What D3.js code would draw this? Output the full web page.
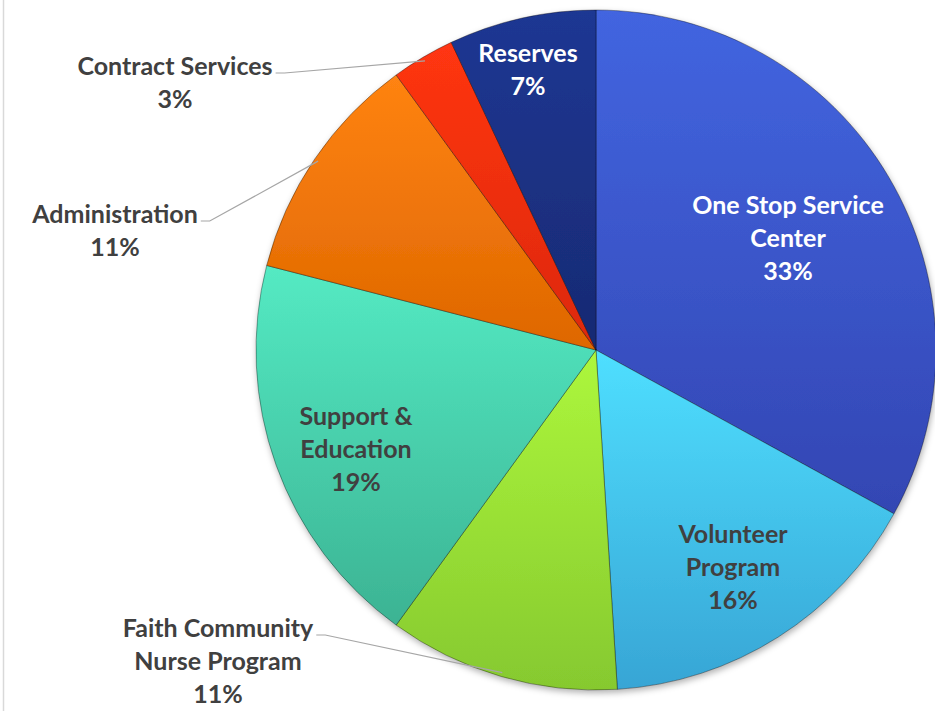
<!DOCTYPE html>
<html lang="en">
  <head>
    <meta charset="UTF-8" />
    <title>Budget Pie</title>
    <style>
      body { margin: 0; background: #fff; }
      text {
        font-family: Lato, "Open Sans", sans-serif;
        font-weight: bold;
        font-size: 25px;
      }
      .dark-label { fill: #404040; }
      .light-label { fill: #ffffff; }
      .leader { fill: none; stroke: #a6a6a6; stroke-width: 1.2px; }
      .slice { stroke: rgba(0,0,0,0.35); stroke-width: 1px; }
    </style>
  </head>
  <body>
    <script src="https://cdn.jsdelivr.net/npm/d3@7"></script>
    <script>

      // data
      var categories = ["One Stop Service Center", "Volunteer Program", "Faith Community Nurse Program",
                        "Support & Education", "Administration", "Contract Services", "Reserves"];
      var values = [33, 16, 11, 19, 11, 3, 7];
      var labelLines = [
        ["One Stop Service", "Center", "33%"],
        ["Volunteer", "Program", "16%"],
        ["Faith Community", "Nurse Program", "11%"],
        ["Support &", "Education", "19%"],
        ["Administration", "11%"],
        ["Contract Services", "3%"],
        ["Reserves", "7%"]
      ];

      // styling / layout
      var topColors    = ["#4265e0", "#4fdfff", "#adf73c", "#54eac3", "#ff8312", "#ff3512", "#1f3793"];
      var bottomColors = ["#3346b3", "#37a5d5", "#86c92f", "#3cb393", "#de6700", "#dc2808", "#172a73"];
      var lightText = [true, false, false, false, false, false, true];
      var outside = [false, false, true, false, true, true, false];
      // label centre (x, first baseline)
      var labelPos = [[788, 214], [733, 543], [218, 637], [356, 425], [115, 223], [175, 75], [528, 62]];

      var w = 935, h = 711;
      var cx = 596, cy = 350, R = 340;
      var lineH = 33;

      var svg = d3.select("body").append("svg")
        .attr("width", w)
        .attr("height", h);

      // frame line on the left
      svg.append("line")
        .attr("x1", 3.5).attr("x2", 3.5)
        .attr("y1", 0).attr("y2", h)
        .attr("stroke", "#d9d9d9")
        .attr("stroke-width", 1.5);

      var defs = svg.append("defs");

      var shadow = defs.append("filter")
        .attr("id", "shadow")
        .attr("x", "-10%").attr("y", "-10%")
        .attr("width", "120%").attr("height", "120%");
      shadow.append("feDropShadow")
        .attr("dx", 1).attr("dy", 3)
        .attr("stdDeviation", 3)
        .attr("flood-color", "#000")
        .attr("flood-opacity", 0.3);

      categories.forEach(function(c, i) {
        var g = defs.append("linearGradient")
          .attr("id", "grad" + i)
          .attr("x1", 0).attr("y1", 0)
          .attr("x2", 0).attr("y2", 1);
        g.append("stop").attr("offset", "0%").attr("stop-color", topColors[i]);
        g.append("stop").attr("offset", "100%").attr("stop-color", bottomColors[i]);
      });

      var data = categories.map(function(c, i) {
        return { name: c, value: values[i], idx: i };
      });

      var pie = d3.pie()
        .sort(null)
        .value(function(d) { return d.value; });

      var arc = d3.arc()
        .innerRadius(0)
        .outerRadius(R);

      var arcs = pie(data);

      var pieG = svg.append("g")
        .attr("transform", "translate(" + cx + "," + cy + ")")
        .attr("filter", "url(#shadow)");

      pieG.selectAll("path")
        .data(arcs)
        .enter()
        .append("path")
        .attr("class", "slice")
        .attr("d", arc)
        .attr("fill", function(d) { return "url(#grad" + d.data.idx + ")"; });

      // labels
      var labels = svg.append("g");

      arcs.forEach(function(a, i) {
        var pos = labelPos[i];
        var t = labels.append("text")
          .attr("class", lightText[i] ? "light-label" : "dark-label")
          .attr("text-anchor", "middle");
        labelLines[i].forEach(function(line, k) {
          t.append("tspan")
            .attr("x", pos[0])
            .attr("y", pos[1] + k * lineH)
            .text(line);
        });

        if (outside[i]) {
          // leader line from end of first line to the slice edge
          var firstW = t.select("tspan").node().getComputedTextLength();
          var x0 = pos[0] + firstW / 2 + 3;
          var y0 = pos[1] - 2;
          var mid = (a.startAngle + a.endAngle) / 2;
          var ex = cx + (R - 4) * Math.sin(mid);
          var ey = cy - (R - 4) * Math.cos(mid);
          labels.append("path")
            .attr("class", "leader")
            .attr("d", "M" + x0 + "," + y0 + "H" + (x0 + 9) + "L" + ex + "," + ey);
        }
      });

    </script>
  </body>
</html>
